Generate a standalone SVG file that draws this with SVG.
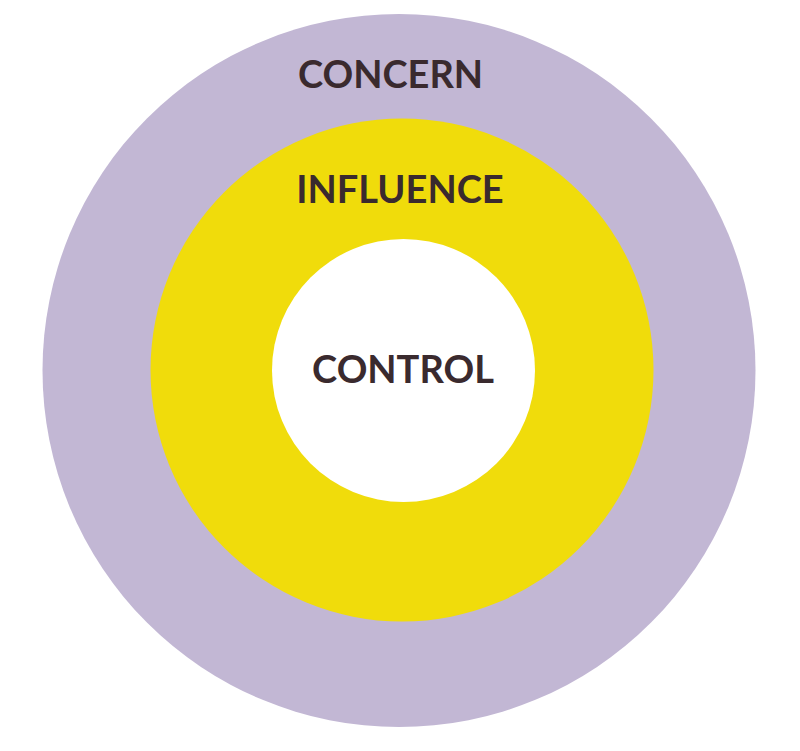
<svg xmlns="http://www.w3.org/2000/svg" width="800" height="751" viewBox="0 0 800 751">
<style>
.lbl{font-family:Lato,"Liberation Sans",sans-serif;font-weight:bold;font-size:38px;fill:#3a2a2e;text-anchor:middle}
</style>
<rect width="800" height="751" fill="#ffffff"/>
<g id="concern">
<circle cx="399" cy="370.5" r="356.5" fill="#c2b7d4"/>
<text class="lbl" x="390.5" y="88">CONCERN</text>
</g>
<g id="influence">
<circle cx="402" cy="370" r="251.5" fill="#f0dc0b"/>
<text class="lbl" x="400" y="203">INFLUENCE</text>
</g>
<g id="control">
<circle cx="403.5" cy="370.5" r="131.5" fill="#ffffff"/>
<text class="lbl" x="403" y="383">CONTROL</text>
</g>
<g id="connectors"/>
</svg>
